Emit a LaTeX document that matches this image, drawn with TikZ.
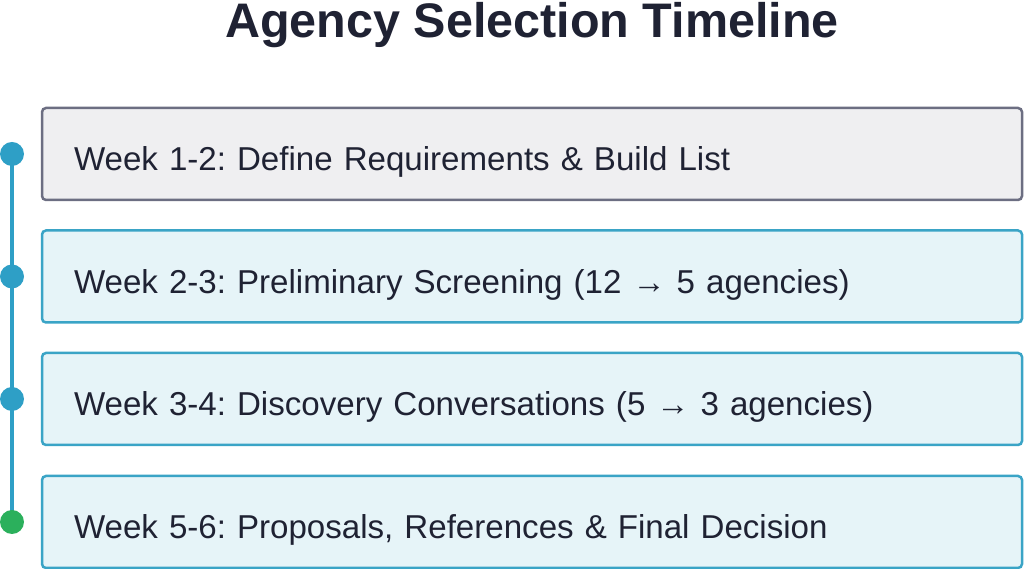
\documentclass[tikz,border=0pt]{standalone}
\usepackage{fontspec}
\setmainfont{Liberation Sans}
\usepackage{tikz}
\pgfdeclarelayer{bg}
\pgfsetlayers{bg,main}
\definecolor{inkdark}{HTML}{1F2233}
\definecolor{tealline}{HTML}{2E9FC6}
\definecolor{doneGreen}{HTML}{2BB05C}
\definecolor{greyedge}{HTML}{6C6E82}
\definecolor{greyfill}{HTML}{EFEFF1}
\definecolor{cyanedge}{HTML}{3AA4C6}
\definecolor{cyanfill}{HTML}{E6F4F8}
\frenchspacing

\begin{document}
\begin{tikzpicture}
  [x=1pt,y=1pt, every node/.style={text=inkdark},
   stage/.style={rectangle,rounded corners=4pt,line width=2.5pt,draw=cyanedge,fill=cyanfill,
     minimum width=980pt,minimum height=92pt,inner xsep=32pt,inner ysep=0pt,
     text width=916pt,align=left,text height=34pt,text depth=0pt,
     font=\fontsize{33.1}{40}\selectfont},
   dot/.style={circle,fill=tealline,minimum size=24pt,inner sep=0pt}] % stage = one step box, dot = marker on the time line

  \useasboundingbox (0,0) rectangle (1024,569);

  \node[anchor=base,font=\fontsize{48.5}{56}\selectfont\bfseries] (title) at (532,531) {Agency Selection Timeline};

  \node[stage,draw=greyedge,fill=greyfill] (w1) at (532,415) {Week 1-2: Define Requirements \& Build List};
  \node[stage] (w2) at (532,292.5) {Week 2-3: Preliminary Screening (12 → 5 agencies)};
  \node[stage] (w3) at (532,170) {Week 3-4: Discovery Conversations (5 → 3 agencies)};
  \node[stage] (w4) at (532,47) {Week 5-6: Proposals, References \& Final Decision};

  \node[dot] (d1) at (12,415) {};
  \node[dot] (d2) at (12,292.5) {};
  \node[dot] (d3) at (12,170) {};
  \node[dot,fill=doneGreen] (d4) at (12,47) {};

  \begin{pgfonlayer}{bg}
    \draw[tealline,line width=4pt] (d1.center) -- (d4.center);
  \end{pgfonlayer}

\end{tikzpicture}
\end{document}
